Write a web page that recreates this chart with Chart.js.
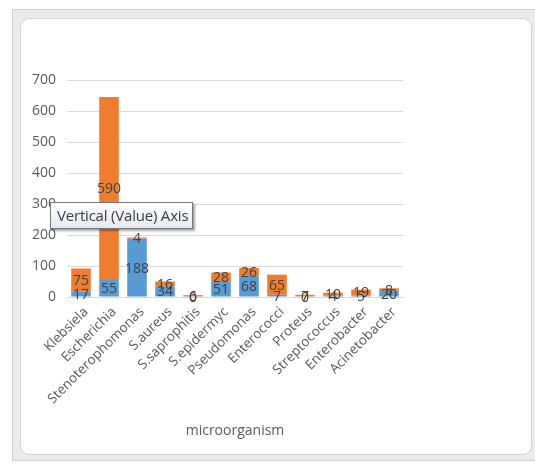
<!DOCTYPE html>
<html>
<head>
<meta charset="utf-8">
<script src="https://cdn.jsdelivr.net/npm/chart.js@4.4.1/dist/chart.umd.min.js"></script>
<style>
  body { margin: 0; width: 535px; height: 464px; background: #fff; overflow: hidden; font-family: "Open Sans", sans-serif; }
  #frame { position: absolute; left: 12px; top: 9px; width: 530px; height: 452px; background: #ebebeb; border: 1px solid #cfcfcf; box-sizing: border-box; }
  #panel { position: absolute; left: 20px; top: 18px; width: 512px; height: 437px; background: #fff; border: 1px solid #d4d4d4; border-radius: 9px; box-sizing: border-box; }
  #wrap { position: absolute; left: 20px; top: 18px; width: 512px; height: 437px; }
  #tip { position: absolute; left: 50px; top: 202px; width: 143px; height: 27px; box-sizing: border-box;
         border: 1px solid #767676; background: linear-gradient(#ffffff, #e4e9f2);
         box-shadow: 2px 2px 2px rgba(0,0,0,0.35); font: 15px "Open Sans", sans-serif; color: #3c3c3c;
         line-height: 25px; padding-left: 6px; white-space: nowrap; letter-spacing: -0.2px; }
</style>
</head>
<body>
<div id="frame"></div>
<div id="panel"></div>
<div id="wrap"><canvas id="chart"></canvas></div>
<div id="tip">Vertical (Value) Axis</div>
<script>
// Données
const organismes = ['Klebsiela', 'Escherichia', 'Stenoterophomonas', 'S.aureus', 'S.saprophitis',
    'S.epidermyc', 'Pseudomonas', 'Enterococci', 'Proteus', 'Streptococcus', 'Enterobacter', 'Acinetobacter'];
const serieBleue = [17, 55, 188, 34, 0, 51, 68, 7, 0, 4, 5, 20];
const serieOrange = [75, 590, 4, 16, 6, 28, 26, 65, 7, 10, 19, 8];
const ticksY = [0, 100, 200, 300, 400, 500, 600, 700];

// Étiquettes de valeurs au centre de chaque segment
const etiquettes = {
    id: 'etiquettes',
    afterDatasetsDraw(chart) {
        const ctx = chart.ctx;
        ctx.save();
        ctx.font = '14px "Open Sans", sans-serif';
        ctx.fillStyle = '#404040';
        ctx.textAlign = 'center';
        ctx.textBaseline = 'middle';
        chart.data.datasets.forEach((ds, i) => {
            chart.getDatasetMeta(i).data.forEach((bar, j) => {
                const p = bar.getProps(['x', 'y', 'base'], true);
                ctx.fillText(ds.data[j], p.x, (p.y + p.base) / 2 + 1);
            });
        });
        ctx.restore();
    }
};

new Chart(document.getElementById('chart'), {
    type: 'bar',
    data: {
        labels: organismes,
        datasets: [
            { data: serieBleue, backgroundColor: '#5b9bd5', barPercentage: 0.7, categoryPercentage: 1 },
            { data: serieOrange, backgroundColor: '#ed7d31', barPercentage: 0.7, categoryPercentage: 1 }
        ]
    },
    options: {
        responsive: true,
        maintainAspectRatio: false,
        animation: false,
        layout: { padding: { top: 62, right: 129, bottom: 16, left: 0 } },
        plugins: { legend: { display: false }, tooltip: { enabled: false } },
        scales: {
            x: {
                stacked: true,
                grid: { display: false, drawTicks: false },
                border: { color: '#d9d9d9' },
                ticks: { color: '#595959', font: { size: 13.5, family: '"Open Sans", sans-serif' },
                         maxRotation: 45, minRotation: 45, padding: 7, labelOffset: 5 },
                title: { display: true, text: 'microorganism', color: '#595959',
                         font: { size: 14, family: '"Open Sans", sans-serif' }, padding: { top: 0, bottom: 0 } },
                afterFit(axis) { axis.height = 142; }
            },
            y: {
                stacked: true,
                min: 0,
                max: 700,
                afterBuildTicks(axis) { axis.ticks = ticksY.map(v => ({ value: v })); },
                grid: { color: '#d9d9d9', drawTicks: false },
                border: { display: false },
                ticks: { color: '#595959', font: { size: 14, family: '"Open Sans", sans-serif' }, padding: 11 },
                afterFit(axis) { axis.width = 47; }
            }
        }
    },
    plugins: [etiquettes]
});
</script>
</body>
</html>
